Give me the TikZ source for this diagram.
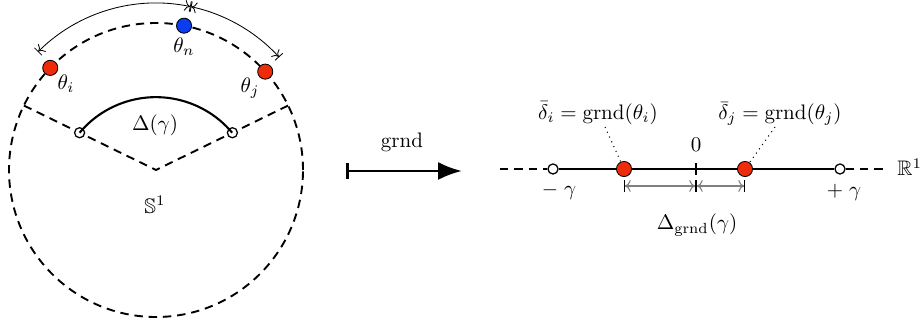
\documentclass[tikz,border=0pt]{standalone}
\usepackage{amssymb}
\usetikzlibrary{arrows.meta,calc}
\definecolor{dotred}{RGB}{238,44,10}
\definecolor{dotblue}{RGB}{10,60,240}
\begin{document}
\begin{tikzpicture}[x=0.4762pt,y=0.4762pt,
  dsh/.style={dash pattern=on 4pt off 2.8pt, line width=0.9pt},
  reddot/.style={circle,draw=black,line width=0.4pt,fill=dotred,inner sep=0pt,minimum size=7.2pt},
  bluedot/.style={circle,draw=black,line width=0.4pt,fill=dotblue,inner sep=0pt,minimum size=7.2pt},
  hole/.style={circle,draw=black,fill=white,inner sep=0pt,minimum size=4.8pt,line width=0.6pt},
  span/.style={line width=0.4pt,{Bar[width=5pt]To[]}-{To[]Bar[width=5pt]}},
  dim/.style={line width=0.5pt,gray,{Bar[width=5.5pt,color=black]To[]}-{To[]Bar[width=5.5pt,color=black]}},
  lbl/.style={inner sep=2pt}
]
\useasboundingbox (0,0) rectangle (924,329);
% ---------- circle ----------
\coordinate (C) at (156,159);
\draw[dsh] (C) circle[radius=147];
\coordinate (A1) at ($(C)+(154:147)$);
\coordinate (A2) at ($(C)+(26:147)$);
\draw[dsh] (A1) -- (C) -- (A2);
\node[hole] (h1) at ($(C)+(154:85)$) {};
\node[hole] (h2) at ($(C)+(26:85)$) {};
\draw[line width=1pt] (h1.center) arc[start angle=140,end angle=40,radius=99.6];
\node[lbl] (dg) at (155,204) {$\Delta(\gamma)$};
\node[lbl] (s1) at (155,124) {$\mathbb{S}^1$};
% points on circle
\node[reddot] (ti) at ($(C)+(136:147)$) {};
\node[bluedot] (tn) at ($(C)+(79:147)$) {};
\node[reddot] (tj) at ($(C)+(42:147)$) {};
\node[lbl] (lti) at (66,245) {$\theta_i$};
\node[lbl] (ltn) at (184,282) {$\theta_n$};
\node[lbl] (ltj) at (250,241) {$\theta_j$};
% outer span arrows
\coordinate (o1) at ($(C)+(135:167)$);
\coordinate (o2) at ($(C)+(78:167)$);
\coordinate (o3) at ($(C)+(42.5:167)$);
\draw[span] (o1) arc[start angle=135,end angle=78,radius=167];
\draw[span] (o2) arc[start angle=78,end angle=42.5,radius=167];
% ---------- map arrow ----------
\coordinate (g1) at (346,158);
\coordinate (g2) at (462,158);
\draw[line width=1.4pt,{Bar[width=7.5pt]}-{Latex[length=11.4pt,width=8.6pt]}] (g1) -- (g2);
\node[lbl] (gl) at (402,187) {$\mathrm{grnd}$};
% ---------- real line ----------
\coordinate (dl) at (500,160);
\coordinate (dr) at (887,160);
\node[hole] (hL) at (553,160) {};
\node[hole] (hR) at (840,160) {};
\draw[dsh] (dl) -- (hL);
\draw[dsh] (hR) -- (dr);
\draw[line width=1.3pt] (hL) -- (hR);
\coordinate (z) at (696,160);
\draw[line width=0.8pt] ($(z)+(0,-6)$) -- ($(z)+(0,6)$);
\node[lbl] (zl) at (696,184) {$0$};
\node[reddot] (di) at (624,160) {};
\node[reddot] (dj) at (745,160) {};
\node[lbl] (mg) at (559,138) {$-\;\gamma$};
\node[lbl] (pg) at (844,137) {$+\;\gamma$};
\node[anchor=base west,inner sep=0pt] (R1) at (897,153) {$\mathbb{R}^1$};
% dimension arrows
\coordinate (mi) at (624,143);
\coordinate (m0) at (696,143);
\coordinate (mj) at (745,143);
\draw[dim] (mi) -- (m0);
\draw[dim] (m0) -- (mj);
\node[lbl] (dgr) at (697,104) {$\Delta_{\mathrm{grnd}}(\gamma)$};
% labels
\node[lbl] (Li) at (598,216) {$\bar\delta_i = \mathrm{grnd}(\theta_i)$};
\node[lbl] (Lj) at (780,215) {$\bar\delta_j = \mathrm{grnd}(\theta_j)$};
\coordinate (pi) at (605,202);
\coordinate (pj) at (775,202);
\draw[dotted,line width=0.5pt] (pi) -- (di);
\draw[dotted,line width=0.5pt] (pj) -- (dj);
\end{tikzpicture}
\end{document}
